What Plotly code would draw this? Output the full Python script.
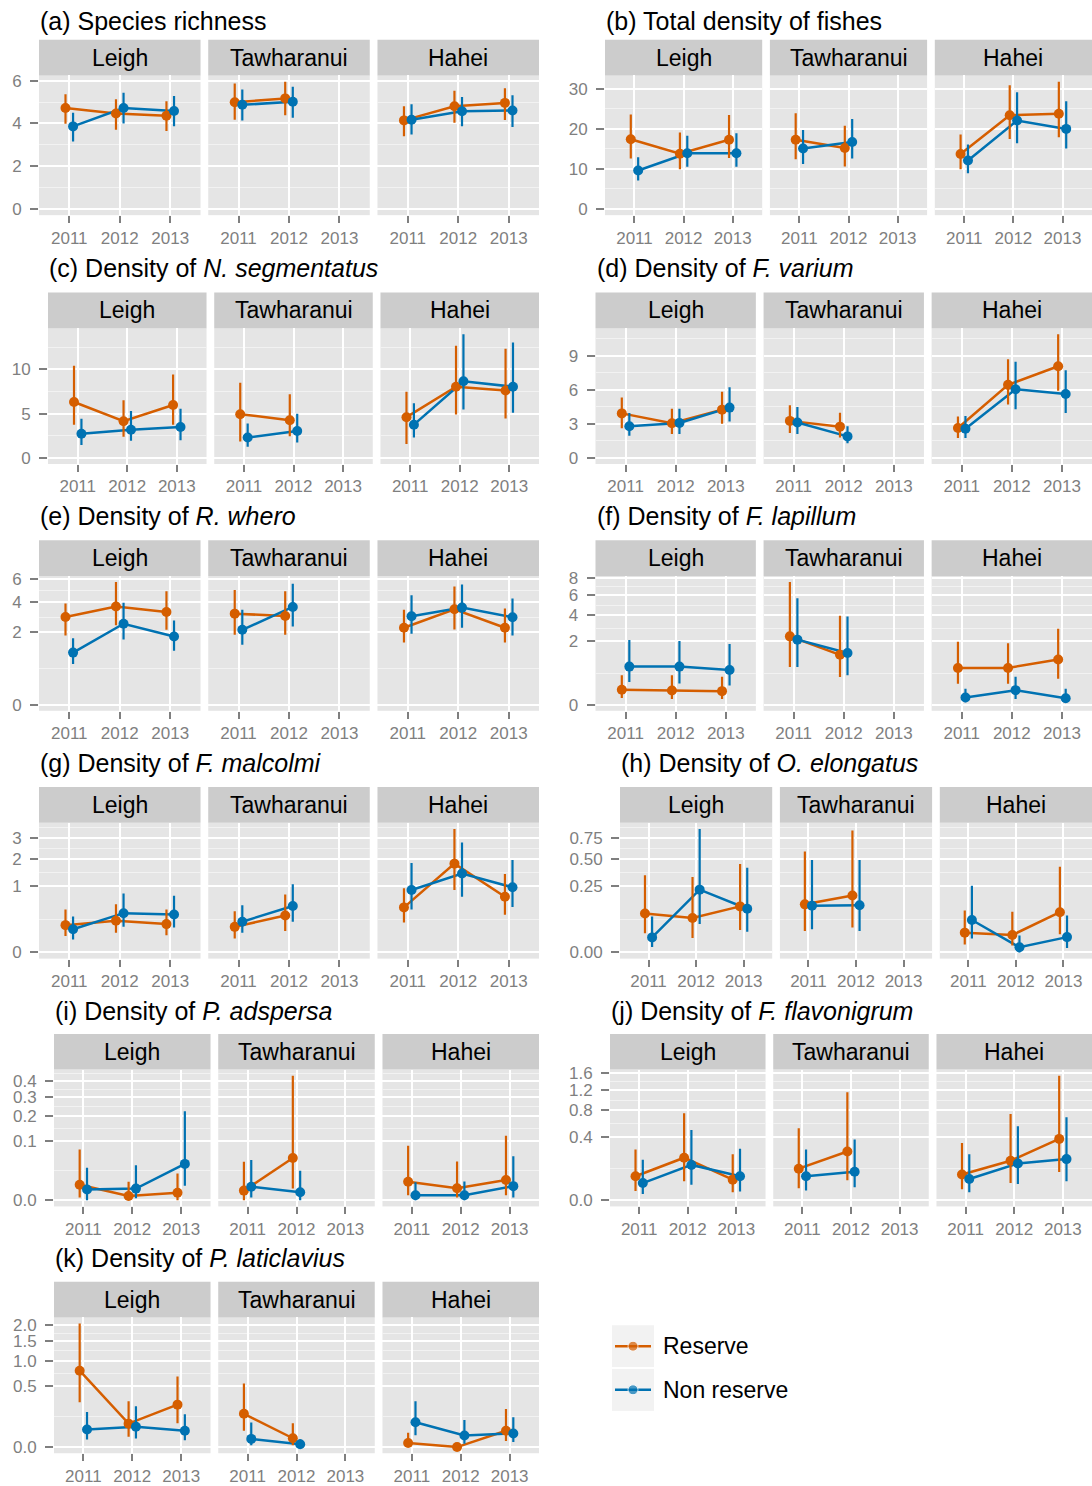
import numpy as np
import plotly.graph_objects as go

# ---------------------------------------------------------------- data
YEARS = ["2011", "2012", "2013"]
SITES = ["Leigh", "Tawharanui", "Hahei"]
GROUPS = ["Reserve", "Non reserve"]

# Each list holds (mean, lower, upper) for Leigh 2011-2013, Tawharanui 2011-2013,
# Hahei 2011-2013; None where a site was not surveyed that year.
richness_reserve = [(4.72, 3.98, 5.37), (4.46, 3.70, 5.13), (4.36, 3.64, 5.04),
                    (4.99, 4.17, 5.87), (5.17, 4.38, 5.95), None,
                    (4.14, 3.40, 4.80), (4.80, 4.03, 5.53), (4.96, 4.16, 5.65)]
richness_nonreserve = [(3.86, 3.15, 4.50), (4.72, 4.00, 5.43), (4.58, 3.87, 5.28),
                       (4.87, 4.14, 5.59), (5.01, 4.27, 5.72), None,
                       (4.17, 3.48, 4.90), (4.57, 3.87, 5.24), (4.60, 3.83, 5.32)]

total_reserve = [(17.4, 12.6, 23.6), (13.8, 9.9, 19.1), (17.3, 12.7, 23.5),
                 (17.3, 12.4, 23.9), (15.2, 10.6, 20.8), None,
                 (13.7, 9.9, 18.6), (23.4, 17.5, 30.9), (23.8, 17.9, 31.8)]
total_nonreserve = [(9.6, 7.1, 12.9), (13.9, 10.5, 18.3), (13.9, 10.5, 18.9),
                    (15.1, 11.2, 19.7), (16.7, 12.6, 22.5), None,
                    (12.1, 8.9, 16.1), (22.1, 16.4, 29.2), (20.0, 15.1, 26.9)]

nseg_reserve = [(6.32, 3.75, 10.42), (4.14, 2.38, 6.51), (5.98, 3.75, 9.43),
                (4.94, 1.84, 8.51), (4.25, 2.45, 7.20), None,
                (4.60, 1.57, 7.47), (8.05, 4.90, 12.68), (7.62, 4.44, 12.34)]
nseg_nonreserve = [(2.72, 1.46, 4.41), (3.18, 1.92, 5.29), (3.49, 1.99, 5.56),
                   (2.30, 1.26, 3.87), (3.03, 1.72, 4.98), None,
                   (3.75, 2.30, 6.17), (8.66, 5.48, 13.98), (8.05, 5.10, 13.07)]

fvar_reserve = [(3.92, 2.60, 5.33), (3.05, 2.10, 4.34), (4.25, 3.00, 5.84),
                (3.26, 2.20, 4.64), (2.75, 1.80, 3.98), None,
                (2.63, 1.74, 3.65), (6.44, 4.70, 8.71), (8.08, 5.93, 10.90)]
fvar_nonreserve = [(2.78, 1.95, 3.95), (3.08, 2.10, 4.34), (4.43, 3.20, 6.23),
                   (3.11, 2.10, 4.49), (1.89, 1.29, 2.78), None,
                   (2.57, 1.74, 3.68), (6.05, 4.28, 8.47), (5.63, 3.95, 7.72)]

rwhero_reserve = [(2.92, 1.82, 3.89), (3.66, 2.39, 5.71), (3.27, 2.13, 4.90),
                  (3.15, 1.86, 4.99), (2.99, 1.86, 4.90), None,
                  (2.25, 1.47, 3.43), (3.46, 2.15, 5.31), (2.25, 1.47, 3.51)]
rwhero_nonreserve = [(1.03, 0.63, 1.68), (2.49, 1.61, 3.94), (1.77, 1.11, 2.70),
                     (2.13, 1.37, 3.43), (3.63, 2.33, 5.56), None,
                     (2.97, 1.91, 4.56), (3.58, 2.25, 5.50), (2.90, 1.82, 4.28)]

flap_reserve = [(0.110, 0.023, 0.43), (0.100, 0.016, 0.43), (0.091, 0.016, 0.39),
                (2.33, 0.71, 7.50), (1.24, 0.381, 3.95), None,
                (0.673, 0.218, 1.98), (0.673, 0.218, 1.88), (1.02, 0.336, 2.87)]
flap_nonreserve = [(0.723, 0.254, 2.09), (0.723, 0.225, 2.02), (0.60, 0.184, 1.83),
                   (2.11, 0.71, 5.65), (1.33, 0.43, 3.89), None,
                   (0.025, 0.003, 0.125), (0.105, 0.016, 0.39), (0.020, 0.003, 0.125)]

fmal_reserve = [(0.171, 0.062, 0.424), (0.231, 0.090, 0.532), (0.184, 0.067, 0.424),
                (0.150, 0.045, 0.391), (0.312, 0.106, 0.773), None,
                (0.466, 0.207, 0.945), (1.81, 0.895, 3.50), (0.710, 0.324, 1.41)]
fmal_nonreserve = [(0.124, 0.039, 0.295), (0.354, 0.150, 0.80), (0.329, 0.142, 0.737),
                   (0.217, 0.090, 0.509), (0.494, 0.217, 1.07), None,
                   (0.895, 0.424, 1.84), (1.43, 0.71, 2.77), (0.975, 0.473, 1.96)]

oelo_reserve = [(0.0863, 0.0208, 0.339), (0.0678, 0.0117, 0.324), (0.121, 0.0289, 0.446),
                (0.132, 0.0264, 0.582), (0.185, 0.0354, 0.847), None,
                (0.0223, 0.0035, 0.1005), (0.0173, 0.0027, 0.094), (0.0925, 0.0187, 0.418)]
oelo_nonreserve = [(0.0129, 0.0017, 0.0732), (0.225, 0.0458, 0.870), (0.109, 0.0247, 0.409),
                   (0.125, 0.0307, 0.488), (0.127, 0.0264, 0.487), None,
                   (0.060, 0.0112, 0.253), (0.0015, 0.0, 0.0166), (0.0134, 0.0011, 0.0775)]

pads_reserve = [(0.0067, 0.0002, 0.0728), (0.0005, 0.0, 0.0097), (0.0016, 0.0, 0.0202),
                (0.0026, 0.0, 0.0417), (0.0503, 0.0038, 0.438), None,
                (0.0097, 0.0007, 0.084), (0.0041, 0.0002, 0.0424), (0.0116, 0.0007, 0.1174)]
pads_nonreserve = [(0.0032, 0.0, 0.030), (0.0038, 0.0001, 0.0346), (0.0373, 0.0059, 0.2246),
                   (0.0051, 0.0002, 0.0455), (0.0018, 0.0, 0.0246), None,
                   (0.0007, 0.0, 0.009), (0.0007, 0.0, 0.010), (0.0056, 0.0002, 0.0544)]

fflav_reserve = [(0.057, 0.0085, 0.2546), (0.1788, 0.0352, 0.750), (0.0419, 0.0061, 0.2087),
                 (0.0984, 0.0142, 0.5127), (0.2344, 0.0391, 1.153), None,
                 (0.0654, 0.0119, 0.324), (0.1537, 0.0291, 0.738), (0.3724, 0.0782, 1.532)]
fflav_nonreserve = [(0.0291, 0.0038, 0.162), (0.1233, 0.0235, 0.4885), (0.057, 0.0073, 0.2616),
                    (0.057, 0.0091, 0.2546), (0.080, 0.0168, 0.364), None,
                    (0.0447, 0.0061, 0.2087), (0.1331, 0.0257, 0.542), (0.1674, 0.0352, 0.681)]

plat_reserve = [(0.781, 0.269, 2.04), (0.0735, 0.0139, 0.281), (0.241, 0.0756, 0.667),
                (0.148, 0.0355, 0.539), (0.0104, 0.0004, 0.0756), None,
                (0.0022, 0.0, 0.0272), (0.0, 0.0, 0.0), (0.0355, 0.005, 0.1936)]
plat_nonreserve = [(0.0417, 0.0075, 0.1636), (0.0556, 0.0096, 0.222), (0.0355, 0.0062, 0.145),
                   (0.0089, 0.0004, 0.080), (0.001, 0.0, 0.0082), None,
                   (0.0822, 0.0189, 0.281), (0.0178, 0.0015, 0.0987), (0.0247, 0.0035, 0.1194)]

# y-axis breaks and their labels
ticks_a = [0, 2, 4, 6]
ticks_b = [0, 10, 20, 30]
ticks_c = [0, 5, 10]
ticks_d = [0, 3, 6, 9]
ticks_e = [0, 2, 4, 6]
ticks_f = [0, 2, 4, 6, 8]
ticks_g = [0, 1, 2, 3]
ticks_h = [0, 0.25, 0.5, 0.75]
labels_h = ["0.00", "0.25", "0.50", "0.75"]
ticks_i = [0, 0.1, 0.2, 0.3, 0.4]
labels_i = ["0.0", "0.1", "0.2", "0.3", "0.4"]
ticks_j = [0, 0.4, 0.8, 1.2, 1.6]
labels_j = ["0.0", "0.4", "0.8", "1.2", "1.6"]
ticks_k = [0, 0.5, 1.0, 1.5, 2.0]
labels_k = ["0.0", "0.5", "1.0", "1.5", "2.0"]

PANELS = [
    ("(a)", "Species richness", None, "linear", ticks_a, None, richness_reserve, richness_nonreserve),
    ("(b)", "Total density of fishes", None, "linear", ticks_b, None, total_reserve, total_nonreserve),
    ("(c)", "Density of", "N. segmentatus", "linear", ticks_c, None, nseg_reserve, nseg_nonreserve),
    ("(d)", "Density of", "F. varium", "linear", ticks_d, None, fvar_reserve, fvar_nonreserve),
    ("(e)", "Density of", "R. whero", "sqrt", ticks_e, None, rwhero_reserve, rwhero_nonreserve),
    ("(f)", "Density of", "F. lapillum", "sqrt", ticks_f, None, flap_reserve, flap_nonreserve),
    ("(g)", "Density of", "F. malcolmi", "sqrt", ticks_g, None, fmal_reserve, fmal_nonreserve),
    ("(h)", "Density of", "O. elongatus", "sqrt", ticks_h, labels_h, oelo_reserve, oelo_nonreserve),
    ("(i)", "Density of", "P. adspersa", "sqrt", ticks_i, labels_i, pads_reserve, pads_nonreserve),
    ("(j)", "Density of", "F. flavonigrum", "sqrt", ticks_j, labels_j, fflav_reserve, fflav_nonreserve),
    ("(k)", "Density of", "P. laticlavius", "sqrt", ticks_k, labels_k, plat_reserve, plat_nonreserve),
]

# ---------------------------------------------------------------- style / layout
W, H = 1092, 1486
FONT = "Liberation Sans, Arial, Helvetica, sans-serif"
COLORS = {"Reserve": "#D55E00", "Non reserve": "#0072B2"}
DODGE = {"Reserve": -0.075, "Non reserve": 0.075}
GREY_TXT = "#7F7F7F"
PANEL_BG = "#E5E5E5"
STRIP_BG = "#CCCCCC"

STRIP_H = 36
GAP = 7.7
COL_RIGHT = [539, 1092]
ROW_STRIP_TOP = [33, 288, 538, 787, 1036, 1286]
ROW_PANEL_BOT = [210, 461, 710, 960, 1210, 1459]
TITLE_Y = [14, 263, 513, 763, 1013, 1262]
PANEL_LEFT = [39, 605, 48, 595.5, 39, 595.5, 39, 620, 54, 610, 54]


def fx(px):
    return px / W


def fy(py):
    return 1 - py / H


def transform(scale, v):
    v = np.asarray(v, dtype=float)
    return np.sqrt(v) if scale == "sqrt" else v


fig = go.Figure()
layout = {}
shapes = []
annotations = []

ax = 0
for p, (tag, head, species, scale, ticks, tlabels, res, non) in enumerate(PANELS):
    row, col = divmod(p, 2)
    left, right = PANEL_LEFT[p], COL_RIGHT[col]
    fw = (right - left - 2 * GAP) / 3
    s_top = ROW_STRIP_TOP[row]
    p_top = s_top + STRIP_H
    p_bot = ROW_PANEL_BOT[row]

    # panel title
    text = f"{tag} {head}" if species is None else f"{tag} {head} <i>{species}</i>"
    annotations.append(dict(text=text, x=fx(left - 1), y=fy(TITLE_Y[row]), xref="paper", yref="paper",
                            xanchor="left", yanchor="middle", showarrow=False,
                            font=dict(size=25, color="black", family=FONT)))

    # shared y scale (transformed space, 0 included, 5% padding)
    uppers = [e[2] for e in res + non if e is not None]
    hi = float(transform(scale, max(uppers)))
    pad = 0.05 * hi
    yrange = [-pad, hi + pad]
    major = transform(scale, ticks)
    minor = list((major[:-1] + major[1:]) / 2)
    ext = major[-1] + (major[-1] - major[-2]) / 2
    if ext < yrange[1]:
        minor.append(ext)
    labels = tlabels if tlabels is not None else [f"{t:g}" for t in ticks]

    for f, site in enumerate(SITES):
        ax += 1
        x0 = left + f * (fw + GAP)
        x1 = x0 + fw
        xname = "xaxis" if ax == 1 else f"xaxis{ax}"
        yname = "yaxis" if ax == 1 else f"yaxis{ax}"
        xref = "x" if ax == 1 else f"x{ax}"
        yref = "y" if ax == 1 else f"y{ax}"

        layout[xname] = dict(domain=[fx(x0), fx(x1)], anchor=yref, range=[0.4, 3.6],
                             tickmode="array", tickvals=[1, 2, 3], ticktext=YEARS,
                             showgrid=True, gridcolor="white", gridwidth=2,
                             zeroline=False, showline=False,
                             ticks="outside", ticklen=7, tickwidth=1.5, tickcolor=GREY_TXT,
                             tickfont=dict(size=17, color=GREY_TXT, family=FONT),
                             fixedrange=True)
        first = f == 0
        layout[yname] = dict(domain=[fy(p_bot), fy(p_top)], anchor=xref, range=yrange,
                             tickmode="array", tickvals=list(major), ticktext=labels,
                             showticklabels=first, ticks="outside" if first else "",
                             ticklen=8, tickwidth=1.5, tickcolor=GREY_TXT,
                             ticklabelstandoff=5,
                             tickfont=dict(size=17, color=GREY_TXT, family=FONT),
                             showgrid=True, gridcolor="white", gridwidth=2,
                             minor=dict(tickvals=minor, showgrid=True, gridcolor="#F2F2F2",
                                        gridwidth=1, ticks=""),
                             zeroline=False, showline=False, fixedrange=True)

        # facet strip
        shapes.append(dict(type="rect", xref="paper", yref="paper",
                           x0=fx(x0), x1=fx(x1), y0=fy(p_top), y1=fy(s_top),
                           fillcolor=STRIP_BG, line=dict(width=0), layer="below"))
        annotations.append(dict(text=site, x=fx((x0 + x1) / 2), y=fy(s_top + STRIP_H / 2),
                                xref="paper", yref="paper", xanchor="center", yanchor="middle",
                                showarrow=False, font=dict(size=23, color="black", family=FONT)))

        series = {}
        for g, data in zip(GROUPS, (res, non)):
            part = data[f * 3:(f + 1) * 3]
            xs, ys, ep, em = [], [], [], []
            for i, e in enumerate(part):
                if e is None:
                    continue
                m, lo, up = (float(transform(scale, v)) for v in e)
                xs.append(i + 1 + DODGE[g])
                ys.append(m)
                ep.append(up - m)
                em.append(m - lo)
            series[g] = (xs, ys, ep, em)

        # connecting lines first, then the point ranges on top
        for g in GROUPS:
            xs, ys, _, _ = series[g]
            fig.add_trace(go.Scatter(x=xs, y=ys, mode="lines", xaxis=xref, yaxis=yref,
                                     line=dict(color=COLORS[g], width=2.5),
                                     hoverinfo="skip", showlegend=False))
        for g in GROUPS:
            xs, ys, ep, em = series[g]
            fig.add_trace(go.Scatter(x=xs, y=ys, mode="markers", xaxis=xref, yaxis=yref,
                                     marker=dict(color=COLORS[g], size=10),
                                     error_y=dict(type="data", symmetric=False, array=ep,
                                                  arrayminus=em, width=0, thickness=2.2,
                                                  color=COLORS[g]),
                                     name=g, showlegend=False))

# ---------------------------------------------------------------- legend
ax += 1
KEY = 42
KEY_GAP = 2
LEG_LEFT, LEG_TOP = 612, 1330
leg_h = 2 * KEY + KEY_GAP
lx, ly = f"x{ax}", f"y{ax}"
layout[f"xaxis{ax}"] = dict(domain=[fx(LEG_LEFT), fx(LEG_LEFT + KEY)], anchor=ly, range=[0, KEY],
                           visible=False, fixedrange=True)
layout[f"yaxis{ax}"] = dict(domain=[fy(LEG_TOP + leg_h), fy(LEG_TOP)], anchor=lx, range=[leg_h, 0],
                           visible=False, fixedrange=True)
shapes.append(dict(type="rect", xref=lx, yref=ly, x0=0, x1=KEY, y0=0, y1=leg_h,
                   fillcolor="white", line=dict(width=0), layer="below"))
for k, g in enumerate(GROUPS):
    top = k * (KEY + KEY_GAP)
    cy = top + KEY / 2
    shapes.append(dict(type="rect", xref=lx, yref=ly, x0=0, x1=KEY, y0=top, y1=top + KEY,
                       fillcolor="#F2F2F2", line=dict(width=0), layer="below"))
    fig.add_trace(go.Scatter(x=[3, KEY / 2, KEY - 3], y=[cy, cy, cy], mode="lines+markers",
                             xaxis=lx, yaxis=ly, line=dict(color=COLORS[g], width=2.5),
                             marker=dict(color=COLORS[g], size=[0, 10, 0]),
                             hoverinfo="skip", showlegend=False))
    annotations.append(dict(text=g, x=fx(661), y=fy(LEG_TOP + cy), xref="paper", yref="paper",
                            xanchor="left", yanchor="middle", showarrow=False,
                            font=dict(size=23, color="black", family=FONT)))

fig.update_layout(width=W, height=H, margin=dict(l=0, r=0, t=0, b=0),
                  paper_bgcolor="white", plot_bgcolor=PANEL_BG, showlegend=False,
                  shapes=shapes, annotations=annotations, font=dict(family=FONT),
                  **layout)

fig.write_html("out.html")
